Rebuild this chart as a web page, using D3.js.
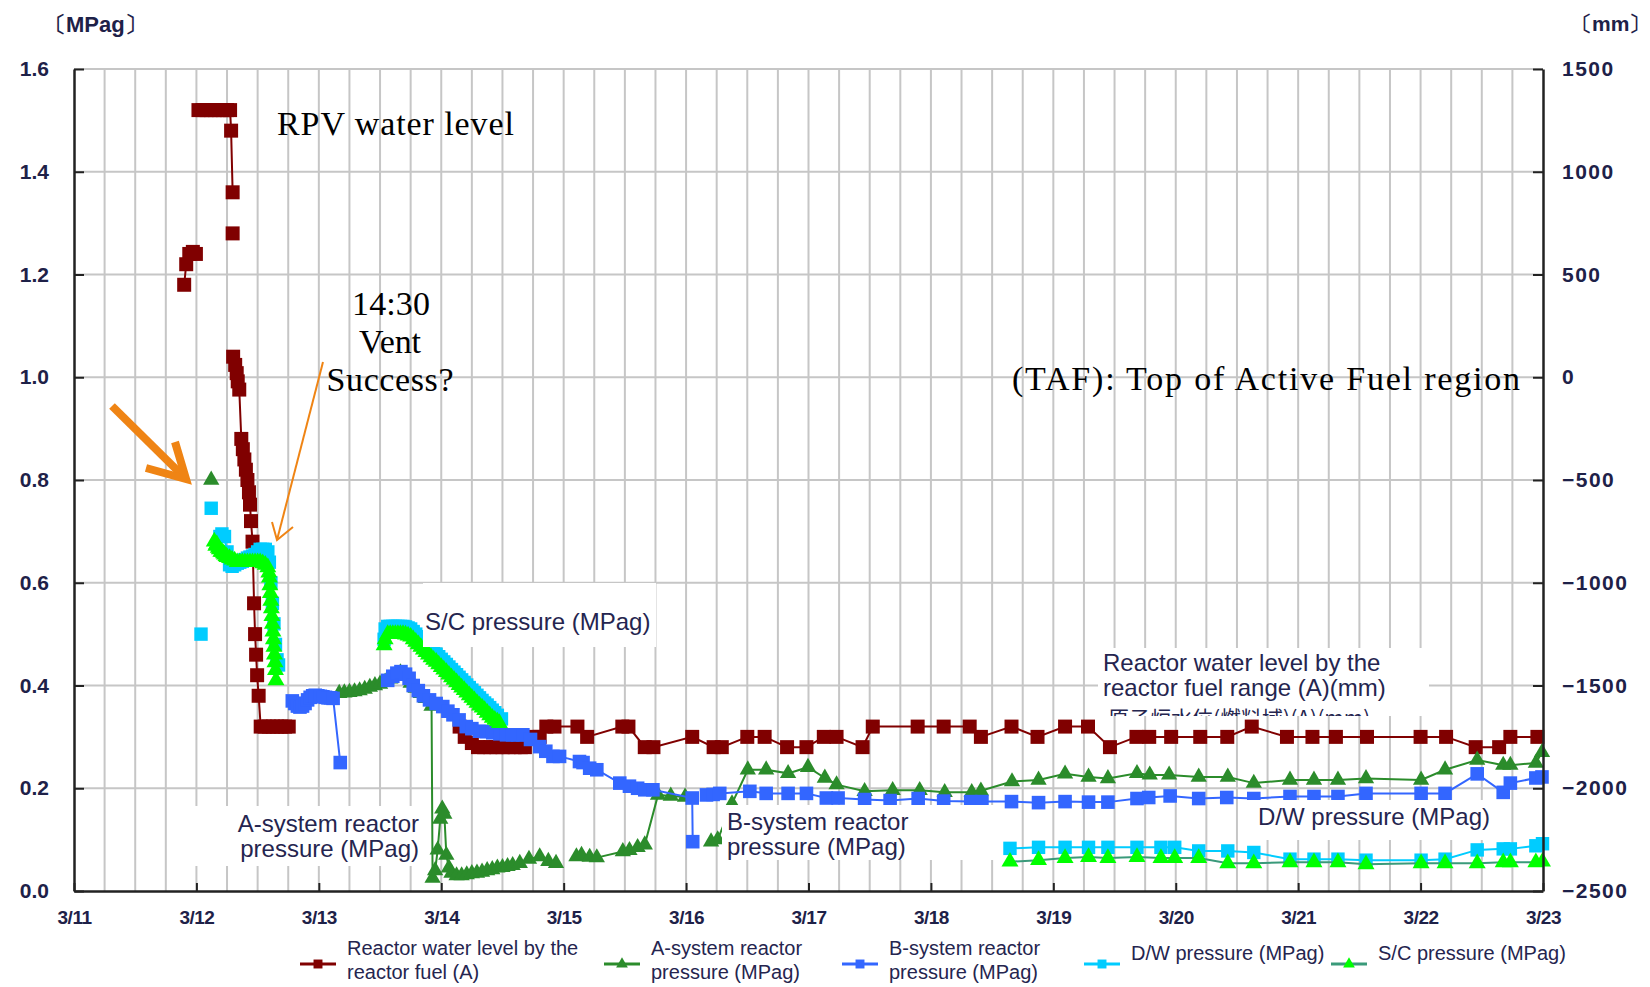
<!DOCTYPE html>
<html>
<head>
<meta charset="utf-8">
<style>
body { margin: 0; background: #fff; }
svg { display: block; }
.axis text { font-family: "Liberation Sans", Arial, sans-serif; font-weight: bold; fill: #1e2148; }
.axis path, .axis line { stroke: #222; }
.lbl { font-family: "Liberation Sans", Arial, sans-serif; font-size: 24px; fill: #25254f; }
.leg { font-family: "Liberation Sans", Arial, sans-serif; font-size: 20px; fill: #25254f; }
.note { font-family: "Liberation Serif", "Times New Roman", serif; font-size: 34px; fill: #000; }
</style>
</head>
<body>
<svg width="1650" height="987"></svg>
<script src="https://d3js.org/d3.v7.min.js"></script>
<script>
// time is hours after 3/11 00:00, null = gap in the record
var dayLabels = ["3/11","3/12","3/13","3/14","3/15","3/16","3/17","3/18","3/19","3/20","3/21","3/22","3/23"];
var pressureTicks = [0, 0.2, 0.4, 0.6, 0.8, 1.0, 1.2, 1.4, 1.6];
var levelTicks = [-2500, -2000, -1500, -1000, -500, 0, 500, 1000, 1500];

// reactor water level, fuel range (A) [hour, mm]
var waterLevel = [
  [21.6,450],[22.0,550],[22.6,600],[23.3,610],[23.9,600],null,
  [24.4,1300],[25.2,1300],[26.0,1300],[26.8,1300],[27.6,1300],[28.4,1300],[29.2,1300],[30.0,1300],[30.6,1300],[30.8,1200],[31.1,900],null,
  [31.1,700],null,
  [31.2,100],[31.6,60],[31.9,20],[32.1,-20],[32.4,-60],[32.8,-300],[33.1,-350],[33.4,-400],[33.7,-450],[34.0,-500],[34.3,-560],[34.5,-620],
  [34.7,-700],[35.0,-800],[35.3,-1100],[35.5,-1250],[35.7,-1350],[35.9,-1450],[36.2,-1550],[36.6,-1700],[37.4,-1700],[38.2,-1700],
  [39.0,-1700],[39.8,-1700],[40.6,-1700],[41.4,-1700],[42.1,-1700],null,
  [75.6,-1700],[76.6,-1750],[78.0,-1780],[79.2,-1800],[80.4,-1800],[81.6,-1800],[82.8,-1800],[84.0,-1800],[85.2,-1800],[86.4,-1800],
  [87.6,-1800],[88.4,-1800],[90.1,-1750],[91.3,-1750],[92.6,-1700],[94.2,-1700],[98.7,-1700],[100.6,-1750],[107.5,-1700],[108.7,-1700],
  [111.9,-1800],[113.6,-1800],[121.2,-1750],[125.4,-1800],[127.0,-1800],[132.0,-1750],[135.4,-1750],[139.8,-1800],[143.6,-1800],
  [147.0,-1750],[149.5,-1750],[154.6,-1800],[156.6,-1700],[165.4,-1700],[170.5,-1700],[175.6,-1700],[177.8,-1750],[183.8,-1700],
  [188.9,-1750],[194.3,-1700],[198.8,-1700],[203.1,-1800],[208.3,-1750],[210.8,-1750],[215.1,-1750],[220.8,-1750],[226.1,-1750],
  [230.9,-1700],[237.8,-1750],[242.8,-1750],[247.4,-1750],[253.5,-1750],[264.0,-1750],[269.0,-1750],[274.8,-1800],[279.4,-1800],
  [281.6,-1750],[286.9,-1750]
];

// A-system reactor pressure [hour, MPag]
var aPressure = [
  [26.9,0.80],null,
  [52.0,0.385],[53,0.386],[54,0.387],[55,0.388],[56,0.39],[57,0.393],[58,0.397],[59,0.40],[60,0.403],[61,0.407],[62,0.413],[63,0.42],
  [64,0.425],[65,0.418],[66,0.405],[67,0.395],[68,0.385],[69,0.375],[70.1,0.36],[70.3,0.025],[70.8,0.04],[71.3,0.08],[71.8,0.14],
  [72.2,0.16],[72.6,0.15],[73.0,0.07],[73.5,0.045],[74,0.035],[75,0.03],[76,0.03],[77,0.032],[78,0.034],[79,0.035],[80,0.037],
  [81,0.04],[82,0.042],[83,0.045],[84,0.046],[85,0.048],[86,0.05],[87.4,0.054],[89.2,0.062],[91.3,0.067],[93,0.058],[94.5,0.054],null,
  [98.5,0.067],[99.5,0.07],[101.1,0.066],[102.5,0.065],[107.6,0.077],[108.9,0.079],[110.5,0.085],[111.9,0.09],[114.5,0.187],
  [117,0.185],[119.8,0.183],null,
  [124.9,0.096],[126.2,0.10],[129,0.17],[132.1,0.236],[135.7,0.236],[140,0.229],[143.9,0.241],[147.2,0.22],[149.5,0.207],[155,0.194],
  [160.5,0.196],[165.8,0.196],[170.7,0.192],[176,0.192],[177.8,0.195],[183.9,0.213],[189.1,0.216],[194.3,0.228],[198.9,0.222],
  [202.7,0.219],[208.4,0.229],[210.9,0.226],[214.7,0.226],[220.5,0.222],[226.2,0.222],[231.3,0.21],[238.4,0.216],[243.1,0.216],
  [247.8,0.216],[253.3,0.219],[264.1,0.216],[268.8,0.236],[275.1,0.255],[280.2,0.245],[281.6,0.245],[286.6,0.249],[287.8,0.27]
];

// B-system reactor pressure [hour, MPag]
var bPressure = [
  [42.8,0.37],[43.3,0.365],[43.8,0.36],[44.3,0.358],[44.8,0.36],[45.3,0.365],[45.8,0.372],[46.3,0.377],[46.8,0.38],[47.3,0.381],
  [47.8,0.38],[48.3,0.379],[48.8,0.378],[49.3,0.377],[49.8,0.376],[50.3,0.376],[50.8,0.375],[52.2,0.25],null,
  [61.5,0.41],[62.5,0.418],[63.3,0.424],[64.1,0.427],[65,0.422],[65.7,0.414],[66.5,0.40],[67.5,0.39],[68.5,0.38],[69.7,0.372],
  [71,0.365],[72.3,0.359],[73.3,0.35],[74.3,0.343],[75.5,0.333],[76.9,0.32],[78,0.316],[79.5,0.311],[80.8,0.31],[82.1,0.308],
  [83.5,0.306],[84.8,0.304],[86,0.304],[87,0.304],[88,0.304],[89.5,0.295],[91.3,0.281],[92.5,0.272],[93.9,0.262],[95.2,0.262],
  [99.1,0.252],[99.8,0.25],[101.1,0.239],[102.5,0.236],[107,0.21],[108.9,0.204],[110.5,0.20],[111.9,0.197],[113.5,0.197],
  [121.2,0.181],[121.3,0.096],null,
  [124,0.187],[125.3,0.188],[126.6,0.19],[132.5,0.194],[135.7,0.19],[140,0.19],[143.6,0.19],[147.5,0.181],[149.8,0.181],[155,0.178],
  [160,0.176],[165.5,0.18],[170.5,0.175],[175.8,0.174],[178,0.174],[183.8,0.174],[189.1,0.172],[194.3,0.174],[198.9,0.173],
  [202.7,0.173],[208.4,0.18],[210.7,0.182],[214.9,0.185],[220.5,0.18],[226,0.182],[231.3,0.18],[238.4,0.184],[243.1,0.184],
  [247.8,0.184],[253.3,0.19],[264.1,0.19],[268.8,0.19],[275.1,0.228],[280.2,0.192],[281.6,0.21],[286.6,0.22],[287.8,0.222]
];

// D/W pressure [hour, MPag]
var dwPressure = [
  [24.9,0.50],null,[26.9,0.745],null,
  [28.6,0.69],[29.0,0.695],[29.5,0.69],[30.0,0.66],[30.5,0.635],[31.0,0.632],[31.5,0.635],[32.0,0.638],[32.5,0.64],[33.0,0.642],
  [33.5,0.645],[34.0,0.648],[34.5,0.65],[35.0,0.652],[35.5,0.655],[36.0,0.66],[36.5,0.665],[37.0,0.665],[37.5,0.665],[38.0,0.66],
  [38.3,0.64],[38.6,0.60],[38.9,0.56],[39.2,0.52],[39.5,0.48],[39.8,0.45],[40.1,0.44],null,
  [60.8,0.49],[61.0,0.51],[61.5,0.515],[62.0,0.515],[62.5,0.515],[63.0,0.515],[63.5,0.515],[64.0,0.515],[64.5,0.515],[65.0,0.514],
  [65.5,0.512],[66,0.51],[66.5,0.505],[67,0.50],[67.5,0.495],[68,0.49],[68.5,0.485],[69,0.48],[69.5,0.475],[70,0.47],[70.5,0.466],
  [71,0.461],[71.5,0.456],[72,0.451],[72.5,0.446],[73,0.441],[73.5,0.436],[74,0.431],[74.5,0.426],[75,0.421],[75.5,0.416],
  [76,0.411],[76.5,0.406],[77,0.401],[77.5,0.396],[78,0.391],[78.5,0.386],[79,0.381],[79.5,0.376],[80,0.371],[80.5,0.366],
  [81,0.362],[81.5,0.357],[82,0.352],[82.5,0.347],[83,0.342],[83.8,0.335],null,
  [183.5,0.083],[189.1,0.085],[194.3,0.085],[198.9,0.085],[202.7,0.085],[208.4,0.085],[213.1,0.085],[215.8,0.085],[220.5,0.078],
  [226.2,0.078],[231.3,0.075],[238.4,0.062],[243.1,0.062],[247.8,0.062],[253.3,0.06],[264.1,0.06],[268.8,0.062],[275.1,0.08],
  [280.2,0.082],[281.6,0.082],[286.6,0.088],[287.9,0.092]
];

// S/C pressure [hour, MPag]
var scPressure = [
  [27.5,0.68],[27.8,0.672],[28.0,0.675],[28.3,0.668],[28.5,0.665],[28.8,0.66],[29.0,0.66],[29.3,0.657],[29.5,0.655],[29.8,0.652],
  [30.0,0.65],[30.5,0.648],[31.0,0.645],[31.5,0.643],[32.0,0.64],[32.5,0.64],[33.0,0.64],[33.5,0.64],[34.0,0.64],[34.5,0.64],
  [35.0,0.64],[35.5,0.64],[36.0,0.64],[36.5,0.64],[37.0,0.638],[37.5,0.635],[38.0,0.63],[38.2,0.62],[38.3,0.61],[38.4,0.595],
  [38.5,0.58],[38.6,0.565],[38.7,0.55],[38.8,0.535],[38.9,0.52],[39.0,0.505],[39.1,0.49],[39.2,0.475],[39.3,0.46],[39.4,0.445],
  [39.5,0.43],[39.6,0.41],null,
  [60.8,0.478],[61.0,0.49],[61.5,0.50],[62.0,0.50],[62.5,0.50],[63.0,0.50],[63.5,0.50],[64.0,0.50],[64.5,0.50],[65.0,0.499],
  [65.5,0.497],[66,0.495],[66.5,0.49],[67,0.485],[67.5,0.48],[68,0.475],[68.5,0.47],[69,0.465],[69.5,0.46],[70,0.455],[70.5,0.45],
  [71,0.446],[71.5,0.441],[72,0.436],[72.5,0.431],[73,0.426],[73.5,0.421],[74,0.416],[74.5,0.411],[75,0.406],[75.5,0.401],
  [76,0.396],[76.5,0.391],[77,0.386],[77.5,0.381],[78,0.376],[78.5,0.371],[79,0.366],[79.5,0.361],[80,0.357],[80.5,0.352],
  [81,0.347],[81.5,0.342],[82,0.337],[82.5,0.333],[83,0.33],[83.4,0.327],null,
  [183.5,0.057],[189.1,0.06],[194.3,0.064],[198.9,0.066],[202.7,0.064],[208.4,0.066],[213.1,0.064],[215.8,0.064],[220.5,0.064],
  [226.2,0.054],[231.3,0.054],[238.4,0.056],[243.1,0.056],[247.8,0.056],[253.3,0.052],[264.1,0.054],[268.8,0.054],[275.1,0.054],
  [280.2,0.056],[281.6,0.056],[286.6,0.056],[287.9,0.057]
];

var svg = d3.select("svg"),
    plotL = 74, plotR = 1543, plotT = 69, plotB = 891;

var x = d3.scaleLinear().domain([0, 288]).range([plotL, plotR]);
var yP = d3.scaleLinear().domain([0, 1.6]).range([plotB, plotT]);
var yL = d3.scaleLinear().domain([-2500, 1500]).range([plotB, plotT]);

// grid: every 6 hours and every 0.2 MPag
var grid = svg.append("g").attr("stroke", "#c6c6c6").attr("stroke-width", 2);
grid.selectAll(".gv").data(d3.range(6, 288, 6)).enter().append("line").attr("class", "gv")
    .attr("x1", function(d) { return x(d); }).attr("x2", function(d) { return x(d); })
    .attr("y1", plotT).attr("y2", plotB);
grid.selectAll(".gh").data(pressureTicks.slice(1)).enter().append("line").attr("class", "gh")
    .attr("x1", plotL).attr("x2", plotR)
    .attr("y1", function(d) { return yP(d); }).attr("y2", function(d) { return yP(d); });

function drawSeries(data, yScale, lineColor, fill, shape, size) {
  var g = svg.append("g");
  var line = d3.line()
      .defined(function(d) { return d !== null; })
      .x(function(d) { return x(d[0]); })
      .y(function(d) { return yScale(d[1]); });
  g.append("path").datum(data)
      .attr("d", line).attr("fill", "none")
      .attr("stroke", lineColor).attr("stroke-width", 2);
  g.selectAll(".m").data(data.filter(function(d) { return d; })).enter().append("path")
      .attr("class", "m")
      .attr("transform", function(d) { return "translate(" + x(d[0]) + "," + yScale(d[1]) + ")"; })
      .attr("d", d3.symbol().type(shape).size(size))
      .attr("fill", fill);
}

drawSeries(waterLevel, yL, "#800000", "#800000", d3.symbolSquare, 196);
drawSeries(aPressure, yP, "#2b8c2b", "#2b8c2b", d3.symbolTriangle, 115);
drawSeries(bPressure, yP, "#3366ff", "#3366ff", d3.symbolSquare, 185);
drawSeries(dwPressure, yP, "#00ccff", "#00ccff", d3.symbolSquare, 180);
drawSeries(scPressure, yP, "#3a9a7a", "#00ff00", d3.symbolTriangle, 125);

// white label boxes pasted over the plot
var boxes = [
  [423, 583, 233, 64],
  [1098, 648, 331, 68],
  [186, 806, 242, 60],
  [722, 805, 278, 55],
  [1247, 800, 248, 40]
];
svg.append("g").selectAll("rect").data(boxes).enter().append("rect")
    .attr("x", function(d) { return d[0]; }).attr("y", function(d) { return d[1]; })
    .attr("width", function(d) { return d[2]; }).attr("height", function(d) { return d[3]; })
    .attr("fill", "#fff");

// axes
var axL = svg.append("g").attr("class", "axis").attr("transform", "translate(" + plotL + ",0)")
    .call(d3.axisLeft(yP).tickValues(pressureTicks).tickFormat(d3.format(".1f"))
      .tickSizeInner(-10).tickSizeOuter(0).tickPadding(25));
axL.selectAll("text").style("font-size", "21px");
var axR = svg.append("g").attr("class", "axis").attr("transform", "translate(" + plotR + ",0)")
    .call(d3.axisRight(yL).tickValues(levelTicks).tickFormat(d3.format("d"))
      .tickSizeInner(-10).tickSizeOuter(0).tickPadding(19));
axR.selectAll("text").style("font-size", "21px").style("letter-spacing", "1.5px");
var axB = svg.append("g").attr("class", "axis").attr("transform", "translate(0," + plotB + ")")
    .call(d3.axisBottom(x).tickValues(d3.range(0, 289, 24))
      .tickFormat(function(d, i) { return dayLabels[i]; })
      .tickSizeInner(-8).tickSizeOuter(0).tickPadding(20));
axB.selectAll("text").style("font-size", "19px").style("letter-spacing", "-0.5px");
svg.selectAll(".axis path").attr("stroke-width", 2.5);
svg.selectAll(".axis line").attr("stroke-width", 2);

svg.append("text").attr("x", 44).attr("y", 32)
    .style("font-family", "'Liberation Sans', Arial, sans-serif").style("font-weight", "bold")
    .style("font-size", "22px").attr("fill", "#1e2148").text("〔MPag〕");
svg.append("text").attr("x", 1571).attr("y", 31)
    .style("font-family", "'Liberation Sans', Arial, sans-serif").style("font-weight", "bold")
    .style("font-size", "21px").attr("fill", "#1e2148").text("〔mm〕");

// series labels
function label(lines, xx, yy, anchor) {
  var t = svg.append("text").attr("class", "lbl").attr("text-anchor", anchor || "start");
  lines.forEach(function(s, i) {
    t.append("tspan").attr("x", xx).attr("y", yy + i * 25).text(s);
  });
}
label(["S/C pressure (MPag)"], 425, 630);
label(["Reactor water level by the", "reactor fuel range (A)(mm)"], 1103, 671);
label(["A-system reactor", "pressure (MPag)"], 419, 832, "end");
label(["B-system reactor", "pressure (MPag)"], 727, 830);
label(["D/W pressure (MPag)"], 1258, 825);

svg.append("clipPath").attr("id", "cut").append("rect")
    .attr("x", 1090).attr("y", 700).attr("width", 350).attr("height", 16);
svg.append("text").attr("class", "lbl").attr("clip-path", "url(#cut)")
    .attr("x", 1108).attr("y", 726).style("font-size", "21px")
    .style("font-family", "'Noto Sans CJK JP', sans-serif")
    .text("原子炉水位(燃料域)(A)(mm)");

// notes
function note(s, xx, yy, len, anchor) {
  svg.append("text").attr("class", "note").attr("x", xx).attr("y", yy)
      .attr("text-anchor", anchor || "start")
      .attr("textLength", len).attr("lengthAdjust", "spacing").text(s);
}
note("RPV water level", 277, 135, 237);
note("14:30", 391, 315, 78, "middle");
note("Vent", 390, 353, 62, "middle");
note("Success?", 390, 391, 127, "middle");
note("(TAF): Top of Active Fuel region", 1012, 390, 508);

// orange arrows
var orange = "#ef8414";
svg.append("line").attr("x1", 112).attr("y1", 406).attr("x2", 182).attr("y2", 475)
    .attr("stroke", orange).attr("stroke-width", 8);
svg.append("polyline").attr("points", "146,468 186,479 175,442")
    .attr("fill", "none").attr("stroke", orange).attr("stroke-width", 8).attr("stroke-linejoin", "miter");
svg.append("line").attr("x1", 323).attr("y1", 362).attr("x2", 277).attr("y2", 540)
    .attr("stroke", orange).attr("stroke-width", 2);
svg.append("polyline").attr("points", "272,522 277,540 293,527")
    .attr("fill", "none").attr("stroke", orange).attr("stroke-width", 2);

// legend
var legendItems = [
  {lines: ["Reactor water level by the", "reactor fuel (A)"], x: 300, line: "#800000", fill: "#800000", shape: d3.symbolSquare, size: 80},
  {lines: ["A-system reactor", "pressure (MPag)"], x: 604, line: "#2b8c2b", fill: "#2b8c2b", shape: d3.symbolTriangle, size: 60},
  {lines: ["B-system reactor", "pressure (MPag)"], x: 842, line: "#3366ff", fill: "#3366ff", shape: d3.symbolSquare, size: 80},
  {lines: ["D/W pressure (MPag)"], x: 1084, line: "#00ccff", fill: "#00ccff", shape: d3.symbolSquare, size: 80},
  {lines: ["S/C pressure (MPag)"], x: 1331, line: "#3a9a7a", fill: "#00ff00", shape: d3.symbolTriangle, size: 60}
];
var leg = svg.append("g").selectAll("g").data(legendItems).enter().append("g");
leg.append("line").attr("x1", function(d) { return d.x; }).attr("x2", function(d) { return d.x + 36; })
    .attr("y1", 964).attr("y2", 964).attr("stroke", function(d) { return d.line; }).attr("stroke-width", 3);
leg.append("path").attr("transform", function(d) { return "translate(" + (d.x + 18) + ",964)"; })
    .attr("d", function(d) { return d3.symbol().type(d.shape).size(d.size)(); })
    .attr("fill", function(d) { return d.fill; });
leg.each(function(d) {
  var t = d3.select(this).append("text").attr("class", "leg");
  d.lines.forEach(function(s, i) {
    var yy = d.lines.length === 1 ? 960 : 955 + i * 24;
    t.append("tspan").attr("x", d.x + 47).attr("y", yy).text(s);
  });
});
</script>
</body>
</html>
